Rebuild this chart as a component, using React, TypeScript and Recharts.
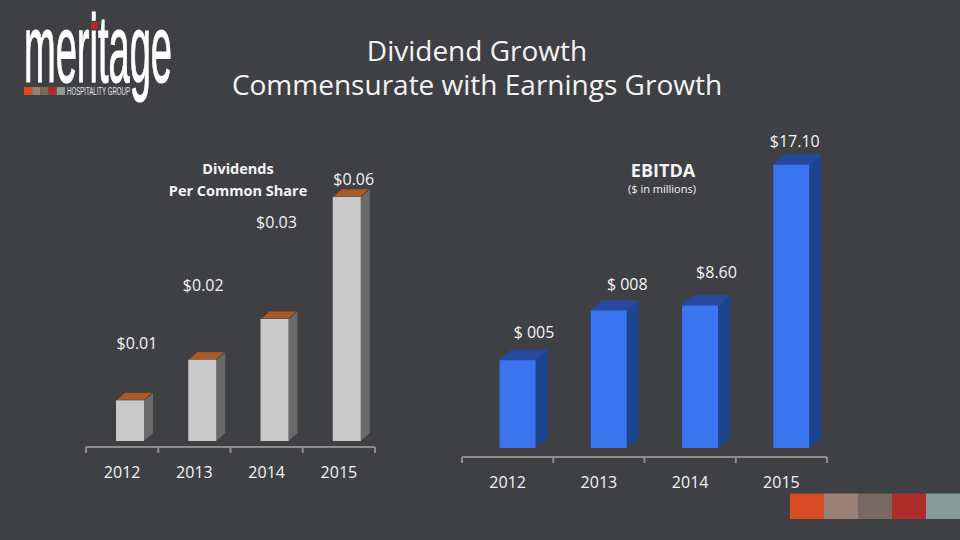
import React from "react";
import { BarChart, Bar, XAxis, YAxis, LabelList } from "recharts";

const years = ["2012", "2013", "2014", "2015"];
const dividendValues = [0.01, 0.02, 0.03, 0.06];
const dividendLabels = ["$0.01", "$0.02", "$0.03", "$0.06"];
const ebitdaValues = [5.3, 8.3, 8.6, 17.1];
const ebitdaLabels = ["$ 005", "$ 008", "$8.60", "$17.10"];
const logoSwatches = ["#d74b26", "#9a8175", "#786a63", "#ad2d2a", "#869a98"];

const dividendData = years.map((year, i) => ({ year, value: dividendValues[i], label: dividendLabels[i] }));
const ebitdaData = years.map((year, i) => ({ year, value: ebitdaValues[i], label: ebitdaLabels[i] }));

const FONT = "'Open Sans', sans-serif";
const BG = "#3f4044";
const TEXT = "#f4f4f4";
const AXIS = "#8c8c8c";

type Cfg = {
  shift: number; depth: number; rise: number; front: string; side: string; top: string; topStroke: string;
};

const box3d = (cfg: Cfg) => (p: any) => {
  const x = p.x + cfg.shift;
  const { y, width: w, height: h } = p;
  const { depth: d, rise: r } = cfg;
  return (
    <g>
      <polygon points={`${x + w},${y} ${x + w + d},${y - r} ${x + w + d},${y + h - r} ${x + w},${y + h}`} fill={cfg.side} />
      <polygon points={`${x},${y} ${x + d},${y - r} ${x + w + d},${y - r} ${x + w},${y}`} fill={cfg.top} stroke={cfg.topStroke} strokeWidth={1} />
      <rect x={x} y={y} width={w} height={h} fill={cfg.front} />
    </g>
  );
};

const axisTick = (band: number, labelDy: number) => (p: any) => {
  const { x, y, payload, index } = p;
  const left = x - band / 2;
  return (
    <g>
      <line x1={left} x2={left} y1={y} y2={y + 6} stroke={AXIS} strokeWidth={2} />
      {index === years.length - 1 && (
        <line x1={left + band} x2={left + band} y1={y} y2={y + 6} stroke={AXIS} strokeWidth={2} />
      )}
      <text x={x} y={y + labelDy} textAnchor="middle" dominantBaseline="central" fill={TEXT} fontSize={16} fontFamily={FONT}>
        {payload.value}
      </text>
    </g>
  );
};

const nudgedLabel = (dx: number[], dy: number[]) => (p: any) => {
  const { x, y, width, index, value } = p;
  return (
    <text x={x + width / 2 + dx[index]} y={y + dy[index]} textAnchor="middle" dominantBaseline="central" fill={TEXT} fontSize={16} fontFamily={FONT}>
      {value}
    </text>
  );
};

const greyBox: Cfg = { shift: 8, depth: 9, rise: 8, front: "#c9c9c9", side: "#6a6a6a", top: "#a85b28", topStroke: "#4a3a30" };
const blueBox: Cfg = { shift: 9.5, depth: 12, rise: 10, front: "#3a75ef", side: "#1e4490", top: "#27499e", topStroke: "#27499e" };

const Logo = () => (
  <g>
    <text
      x={24}
      y={82}
      fontFamily="'Liberation Sans Narrow', 'Liberation Sans', sans-serif"
      fontSize={96}
      fill="#ffffff"
      stroke="#ffffff"
      strokeWidth={1.2}
      textLength={148}
      lengthAdjust="spacingAndGlyphs"
    >
      meritage
    </text>
    <rect x={91} y={22} width={7} height={7} fill="#ad2d2a" />
    {logoSwatches.map((c, i) => (
      <rect key={c} x={24 + i * 8.2} y={87} width={8.2} height={8} fill={c} />
    ))}
    <text x={67} y={95} fontFamily="'Liberation Sans Narrow', sans-serif" fontSize={10} fill="#e8e8e8" textLength={63} lengthAdjust="spacingAndGlyphs">
      HOSPITALITY GROUP
    </text>
  </g>
);

export default function App() {
  return (
    <div style={{ position: "absolute", left: 0, top: 0, width: 960, height: 540, background: BG, overflow: "hidden" }}>
      <svg width={960} height={540} style={{ position: "absolute", left: 0, top: 0 }}>
        <Logo />
        <g fontFamily={FONT} fill={TEXT} textAnchor="middle">
          <text x={477} y={61} fontSize={28}>Dividend Growth</text>
          <text x={477} y={95} fontSize={28}>Commensurate with Earnings Growth</text>
          <text x={238} y={174} fontSize={14.5} fontWeight={700}>Dividends</text>
          <text x={238} y={196} fontSize={14.5} fontWeight={700}>Per Common Share</text>
          <text x={663} y={177} fontSize={18} fontWeight={700}>EBITDA</text>
          <text x={662} y={193} fontSize={11}>($ in millions)</text>
        </g>
        {logoSwatches.map((c, i) => (
          <rect key={c} x={790 + i * 34} y={493.5} width={34} height={25.5} fill={c} />
        ))}
      </svg>

      <div style={{ position: "absolute", left: 60, top: 120 }}>
        <BarChart width={340} height={370} data={dividendData} margin={{ top: 0, left: 26, right: 25, bottom: 0 }}>
          <YAxis hide domain={[-0.00147, 0.07887]} />
          <XAxis
            dataKey="year"
            interval={0}
            height={43}
            stroke={AXIS}
            axisLine={{ stroke: AXIS, strokeWidth: 2 }}
            tickLine={false}
            tickSize={0}
            tickMargin={0}
            tick={axisTick(289 / 4, 25)}
          />
          <Bar dataKey="value" barSize={28} isAnimationActive={false} shape={box3d(greyBox)}>
            <LabelList dataKey="label" content={nudgedLabel([15, 9, 10, 15], [-57, -75, -97, -18])} />
          </Bar>
        </BarChart>
      </div>

      <div style={{ position: "absolute", left: 430, top: 120 }}>
        <BarChart width={430} height={380} data={ebitdaData} margin={{ top: 0, left: 32, right: 33, bottom: 0 }}>
          <YAxis hide domain={[-0.544, 19.8]} />
          <XAxis
            dataKey="year"
            interval={0}
            height={43}
            stroke={AXIS}
            axisLine={{ stroke: AXIS, strokeWidth: 2 }}
            tickLine={false}
            tickSize={0}
            tickMargin={0}
            tick={axisTick(365 / 4, 25)}
          />
          <Bar dataKey="value" barSize={36} isAnimationActive={false} shape={box3d(blueBox)}>
            <LabelList dataKey="label" content={nudgedLabel([26, 28, 26, 13], [-28, -26, -34, -24])} />
          </Bar>
        </BarChart>
      </div>
    </div>
  );
}
